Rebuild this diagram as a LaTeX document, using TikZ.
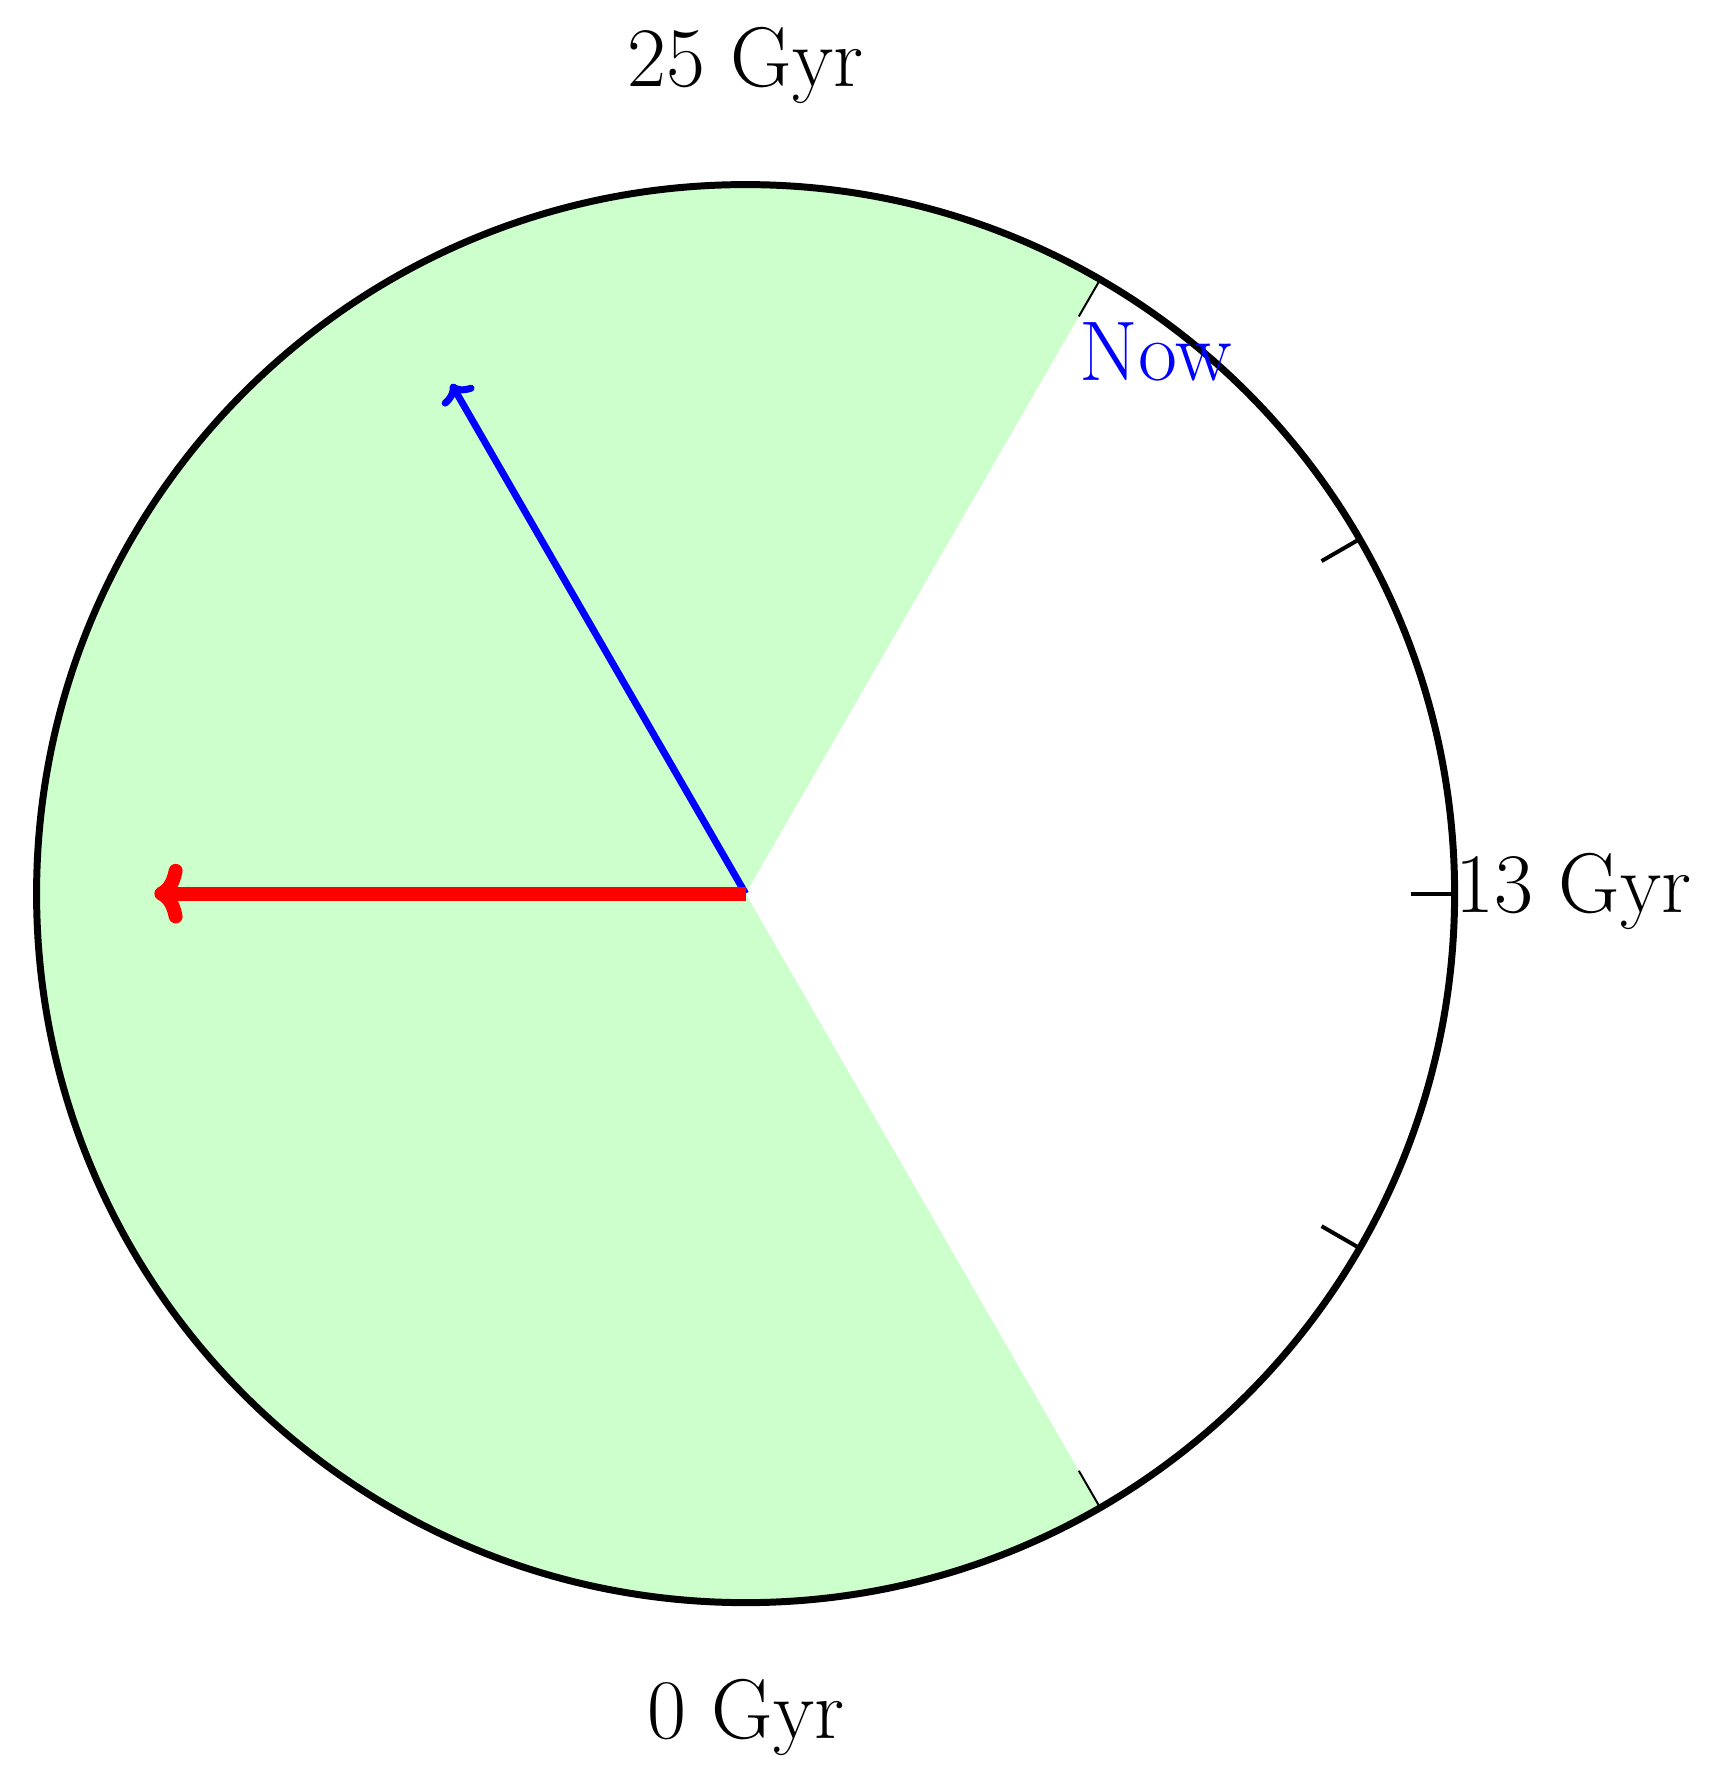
\documentclass[tikz,border=0pt]{standalone}
\usetikzlibrary{arrows.meta}
\definecolor{sectorgreen}{RGB}{204,255,204}
\definecolor{nowblue}{RGB}{0,0,255}
\definecolor{arrred}{RGB}{255,0,0}
\tikzset{
  lbl/.style={font=\fontsize{17}{20}\selectfont, inner sep=0pt},
  rim/.style={line width=1.4pt, draw=black},
  tickthick/.style={line width=0.8pt, draw=black},
  tickthin/.style={line width=0.4pt, draw=black},
}
\begin{document}
\begin{tikzpicture}
\useasboundingbox (-5.258,-6.286) rectangle (6.872,6.302);
\coordinate (c) at (0,0);
% green sector
\fill[sectorgreen] (c) -- (60:5) arc[start angle=60, end angle=300, radius=5] -- cycle;
% circle
\draw[rim] (c) circle[radius=5];
% ticks
\draw[tickthin] (60:4.7) -- (60:5);
\draw[tickthin] (-60:4.7) -- (-60:5);
\draw[tickthick] (30:4.69) -- (30:5);
\draw[tickthick] (0:4.69) -- (0:5);
\draw[tickthick] (-30:4.69) -- (-30:5);
% arrows
\coordinate (bt) at (120:4.15);
\coordinate (rt) at (180:4.17);
\draw[draw=nowblue, line width=1.4pt, line cap=butt, -{To[length=0.12cm,width=0.26cm]}] (c) -- (bt);
\draw[draw=arrred, line width=2.8pt, line cap=butt, -{To[length=0.2cm,width=0.42cm]}] (c) -- (rt);
% labels
\node[lbl, anchor=base] (l25) at (0,5.69) {25 Gyr};
\node[lbl, anchor=base] (l0) at (0,-5.955) {0 Gyr};
\node[lbl, anchor=base west] (l13) at (5.0,-0.13) {13 Gyr};
\node[lbl, anchor=base west, text=nowblue] (now) at (2.35,3.622) {Now};
\end{tikzpicture}
\end{document}
